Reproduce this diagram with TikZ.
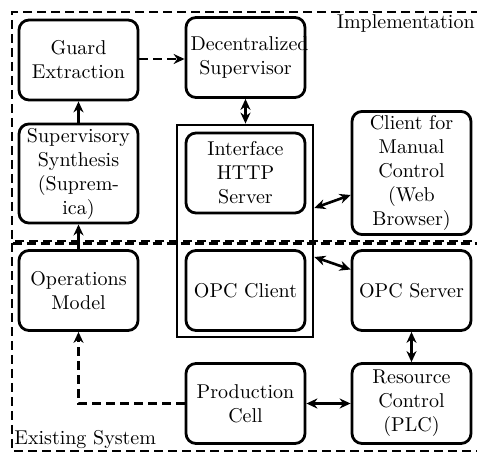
\documentclass[tikz,border=0pt]{standalone}
\usetikzlibrary{arrows.meta,calc}
\begin{document}
\begin{tikzpicture}[x=0.5pt,y=-0.5pt,
  blk/.style={draw, line width=1.4pt, rounded corners=5pt, minimum width=59.5pt,
    minimum height=40pt, text width=55pt, align=center, inner sep=2pt},
  conn/.style={line width=1.3pt},
  both/.style={conn, {Stealth[length=5.5pt,width=5pt]}-{Stealth[length=5.5pt,width=5pt]}},
  one/.style={conn, -{Stealth[length=5.5pt,width=5pt]}},
  dsh/.style={line width=1.3pt, dash pattern=on 4.5pt off 2.5pt},
  lbl/.style={inner sep=1pt}]
\useasboundingbox (0,0) rectangle (477,454);
% regions
\draw[dsh] (480,12) -- (12,12) -- (12,243.5) -- (480,243.5);
\draw[dsh, dash phase=3pt] (480,241) -- (12,241) -- (12,451) -- (480,451);
\node[lbl, anchor=north east] (impl) at (477,12) {Implementation};
\node[lbl, anchor=south west] (exist) at (12,451) {Existing System};
% outer interface box
\node[draw, line width=1.4pt, minimum width=68pt, minimum height=106pt] (outer) at (245,231) {};
% blocks
\node[blk] (guard) at (78.5,60) {Guard\\Extraction};
\node[blk] (dec) at (245.5,57.5) {Decentralized\\Supervisor};
\node[blk] (synth) at (78.5,173.5) {Supervisory\\Synthesis\\(Suprem-\\ica)};
\node[blk] (http) at (245.5,173) {Interface\\HTTP\\Server};
\node[blk] (client) at (411.5,173) {Client for\\Manual\\Control\\(Web\\Browser)};
\node[blk] (ops) at (78.5,290.5) {Operations\\Model};
\node[blk] (opcc) at (245.5,290.5) {OPC Client};
\node[blk] (opcs) at (411.5,290.5) {OPC Server};
\node[blk] (prod) at (245.5,403.5) {Production\\Cell};
\node[blk] (plc) at (411.5,403.5) {Resource\\Control\\(PLC)};
% connectors
\draw[dsh, -{Stealth[length=5.5pt,width=5pt]}] ($(guard.east)+(0,-1)$) -- ($(guard.east -| dec.west)+(0,-1)$);
\draw[one] (synth.north) -- (guard.south);
\draw[one] (ops.north) -- (synth.south);
\draw[both] (dec.south) -- (dec.south |- outer.north);
\draw[both] ($(outer.east)+(0,-23)$) -- ($(client.west)+(0,22)$);
\draw[both] ($(outer.east)+(0,26)$) -- ($(opcs.west)+(0,-21)$);
\draw[both] (opcs.south) -- (plc.north);
\draw[both] (prod.east) -- (plc.west);
\draw[dsh, -{Stealth[length=5.5pt,width=5pt]}] (prod.west) -| (ops.south);
\end{tikzpicture}
\end{document}
